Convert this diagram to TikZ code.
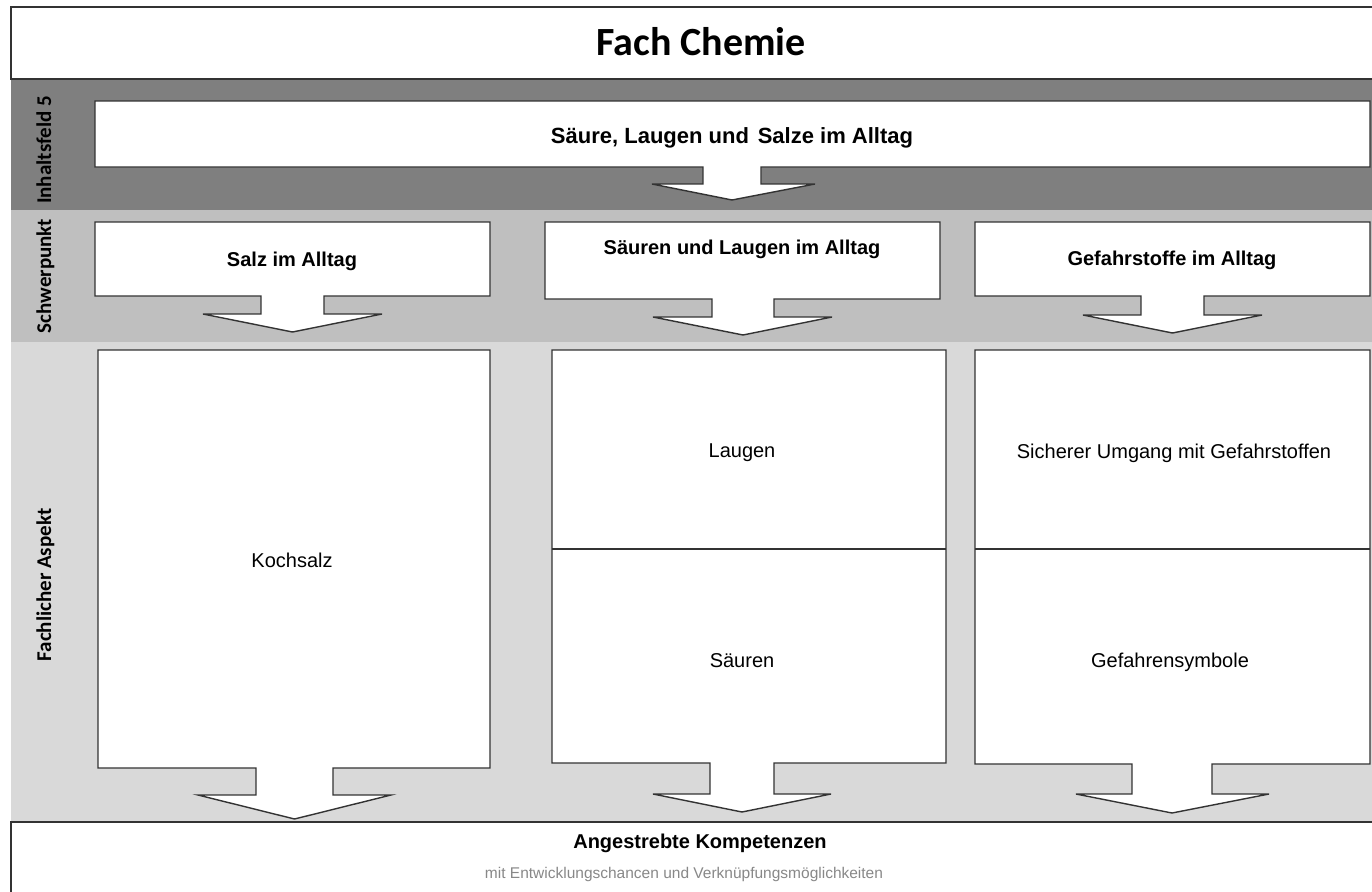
\documentclass[tikz,border=0pt]{standalone}
\usepackage{fontspec}
\setmainfont{Liberation Sans}
\newfontfamily\calfont{Carlito}
\definecolor{bandDark}{HTML}{7F7F7F}
\definecolor{bandMid}{HTML}{BFBFBF}
\definecolor{bandLight}{HTML}{D9D9D9}
\definecolor{edge}{HTML}{333333}
\definecolor{subtxt}{HTML}{888888}
\tikzset{
  boxline/.style={draw=edge, line width=1.4pt, fill=white, line join=miter},
  txt/.style={inner sep=0pt, anchor=base, text=black},
  head/.style={txt, font=\fontsize{20}{24}\selectfont\bfseries},
  body/.style={txt, font=\fontsize{20}{24}\selectfont},
  side/.style={inner sep=0pt, anchor=base, rotate=90, font=\calfont\fontsize{21}{25}\selectfont\bfseries},
}
% callout box: rectangle with a downward block arrow
% #1,#2 top-left; #3,#4 bottom-right; #5,#6 stem x; #7 stem bottom; #8,#9 head x; tip y in \tipy
\newcommand\callout[9]{%
  \pgfmathsetmacro\tipx{(#5+#6)/2}%
  \draw[boxline] (#1,#2) -- (#3,#2) -- (#3,#4) -- (#6,#4) -- (#6,#7) -- (#9,#7)
    -- (\tipx,\tipy) -- (#8,#7) -- (#5,#7) -- (#5,#4) -- (#1,#4) -- cycle;}
\begin{document}
\begin{tikzpicture}[x=1pt, y=-1pt]
\useasboundingbox (0,0) rectangle (1372,891);
\clip (0,0) rectangle (1372,891);
\fill[white] (0,0) rectangle (1372,891);

% horizontal bands
\fill[bandDark]  (11,79)  rectangle (1373,210);
\fill[bandMid]   (11,210) rectangle (1373,342);
\fill[bandLight] (11,342) rectangle (1373,822);

% title box and closing box
\draw[boxline] (11,7) rectangle (1380,79);
\draw[boxline] (11,822) rectangle (1380,900);

% Inhaltsfeld
\def\tipy{200}
\callout{95}{101}{1370}{167}{703}{761}{184}{652}{815}

% Schwerpunkte
\def\tipy{332}
\callout{95}{222}{490}{296}{261}{324}{314}{203}{382}
\def\tipy{335}
\callout{545}{222}{940}{299}{712}{774}{317}{653}{832}
\def\tipy{333}
\callout{975}{222}{1370}{296}{1141}{1204}{315}{1083}{1262}

% Fachliche Aspekte
\def\tipy{819}
\callout{98}{350}{490}{768}{256}{333}{795}{198}{391}
\def\tipy{812}
\callout{552}{350}{946}{763}{710}{774}{794}{653}{831}
\def\tipy{813}
\callout{975}{350}{1370}{764}{1132}{1212}{794}{1076}{1269}
\draw[draw=edge, line width=1.4pt] (552,549) coordinate (dl) -- (946,549) coordinate (dr);
\draw[draw=edge, line width=1.4pt] (975,549) coordinate (gl) -- (1370,549) coordinate (gr);

% texts
\node[txt, font=\calfont\fontsize{40}{46}\selectfont\bfseries] (title) at (701,56) {Fach Chemie};
\node[side] (s1) at (51,150) {Inhaltsfeld 5};
\node[side] (s2) at (51,276) {Schwerpunkt};
\node[side] (s3) at (51,585) {Fachlicher Aspekt};

\node[head, font=\fontsize{22}{26}\selectfont\bfseries] (ifeld) at (732,143) {Säure, Laugen und\hspace{0.12em} Salze im Alltag};
\node[head] (sp1) at (292,266) {Salz im Alltag};
\node[head] (sp2) at (742,254) {Säuren und Laugen im Alltag};
\node[head] (sp3) at (1172,265) {Gefahrstoffe im Alltag};

\node[body] (fa1) at (292,567) {Kochsalz};
\node[body] (fa2) at (742,457) {Laugen};
\node[body] (fa3) at (742,667) {Säuren};
\node[body] (fa4) at (1174,458) {Sicherer Umgang mit Gefahrstoffen};
\node[body] (fa5) at (1170,667) {Gefahrensymbole};

\node[head] (komp) at (700,848) {Angestrebte Kompetenzen};
\node[txt, text=subtxt, font=\fontsize{15.5}{18}\selectfont] (kompsub) at (684,878) {mit Entwicklungschancen und Verknüpfungsmöglichkeiten};
\end{tikzpicture}
\end{document}
